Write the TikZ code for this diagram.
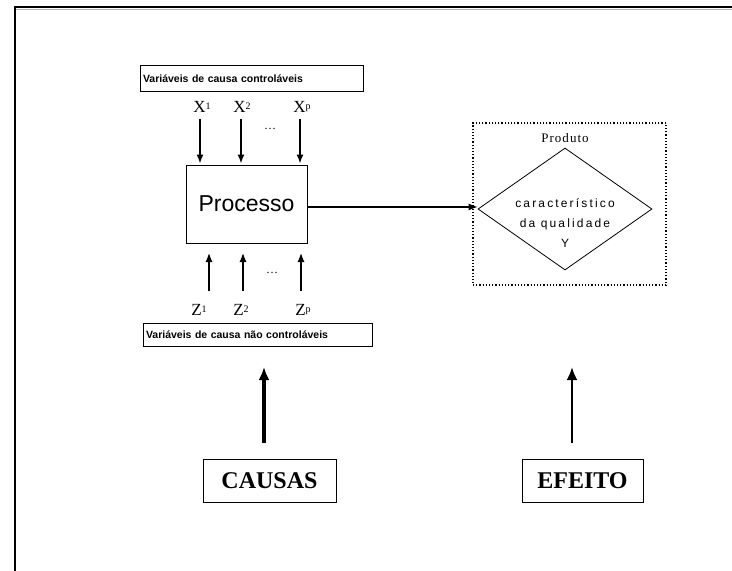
\documentclass[tikz,border=0pt]{standalone}
\usepackage{fontspec}
\setmainfont{Liberation Serif}
\setsansfont{Liberation Sans}
\newfontfamily\diamwide[LetterSpace=18]{Liberation Sans}
\newfontfamily\serifwide[LetterSpace=8]{Liberation Serif}
\usetikzlibrary{shapes.geometric,arrows.meta}
\tikzset{
  framebox/.style={draw, line width=0.9pt, inner sep=0pt},
  varbox/.style={framebox, align=left, font=\sffamily\fontsize{10.5}{11}\selectfont\bfseries},
  lbl/.style={font=\fontsize{17}{18}\selectfont, inner sep=0pt},
  downarrow/.style={line width=1.6pt, -{Latex[length=9pt,width=7pt]}},
  uparrow/.style={line width=1.2pt, -{Latex[length=9pt,width=7pt]}},
  bigarrow/.style={-{Latex[length=13pt,width=11pt]}},
  bigbox/.style={framebox, font=\fontsize{24}{26}\selectfont\bfseries}
}
\newcommand{\idx}[1]{\raisebox{3pt}{\fontsize{10}{10}\selectfont #1}}
\begin{document}
\begin{tikzpicture}[x=1pt,y=-1pt]
\useasboundingbox (0,0) rectangle (732,571);
% page frame
\draw[line width=2pt] (15,571) -- (15,7) -- (732,7);
\draw[gray!60, line width=1pt] (16,9.5) -- (732,9.5);

% controllable variables box
\node[varbox, minimum width=223pt, minimum height=26pt, text width=217pt] (ctrl) at (251.5,78.5) {Variáveis de causa controláveis};

% X labels
\node[lbl] (x1) at (202,107) {X\idx{1}};
\node[lbl] (x2) at (242,107) {X\idx{2}};
\node[lbl] (xp) at (302,107) {X\idx{p}};
\node[font=\fontsize{12}{12}\selectfont] (xdots) at (270,129) {\dots};

% process
\node[framebox, minimum width=121pt, minimum height=78pt, font=\sffamily\fontsize{23}{26}\selectfont] (proc) at (246.5,204) {Processo};

\coordinate (xa1) at (200,119);
\coordinate (xa2) at (241,119);
\coordinate (xa3) at (300,119);
\draw[downarrow] (xa1) -- ([yshift=1pt]xa1 |- proc.north);
\draw[downarrow] (xa2) -- ([yshift=1pt]xa2 |- proc.north);
\draw[downarrow] (xa3) -- ([yshift=1pt]xa3 |- proc.north);

% Z labels
\node[lbl] (z1) at (199,310) {Z\idx{1}};
\node[lbl] (z2) at (241,310) {Z\idx{2}};
\node[lbl] (zp) at (303,310) {Z\idx{p}};
\node[font=\fontsize{12}{12}\selectfont] (zdots) at (272,273) {\dots};

\coordinate (za1) at (209,291);
\coordinate (za2) at (243,291);
\coordinate (za3) at (301,291);
\coordinate (zt1) at (209,253);
\coordinate (zt2) at (243,253);
\coordinate (zt3) at (301,253);
\draw[uparrow] (za1) -- (zt1);
\draw[uparrow] (za2) -- (zt2);
\draw[uparrow] (za3) -- (zt3);

% non controllable box
\node[varbox, minimum width=229pt, minimum height=23pt, text width=223pt] (nctrl) at (257.5,334.5) {Variáveis de causa não controláveis};

% product
\node[draw, dotted, line width=1.2pt, minimum width=193pt, minimum height=162pt, inner sep=0pt] (prodbox) at (569.5,204) {};
\node[font=\serifwide\fontsize{13}{13}\selectfont] (prod) at (565,138) {Produto};
\node[draw, diamond, line width=0.8pt, minimum width=174pt, minimum height=122pt, inner sep=0pt] (car) at (565,209) {};
\node[align=center, font=\diamwide\fontsize{12}{20}\selectfont] (cartext) at (565,223) {característico\\da qualidade\\Y};

\draw[line width=1.1pt, -{Latex[length=9pt,width=7pt]}] (proc.east |- 0,207) -- (car.west |- 0,207);

% causes / effect
\node[bigbox, minimum width=133pt, minimum height=43pt] (causas) at (269.5,480.5) {CAUSAS};
\node[bigbox, minimum width=121pt, minimum height=43pt] (efeito) at (582.5,480.5) {EFEITO};

\coordinate (cb) at (264,443);
\coordinate (ct) at (264,367);
\coordinate (eb) at (572,443);
\coordinate (et) at (572,367);
\draw[bigarrow, line width=4pt] (cb) -- (ct);
\draw[bigarrow, line width=2.5pt] (eb) -- (et);
\end{tikzpicture}
\end{document}
